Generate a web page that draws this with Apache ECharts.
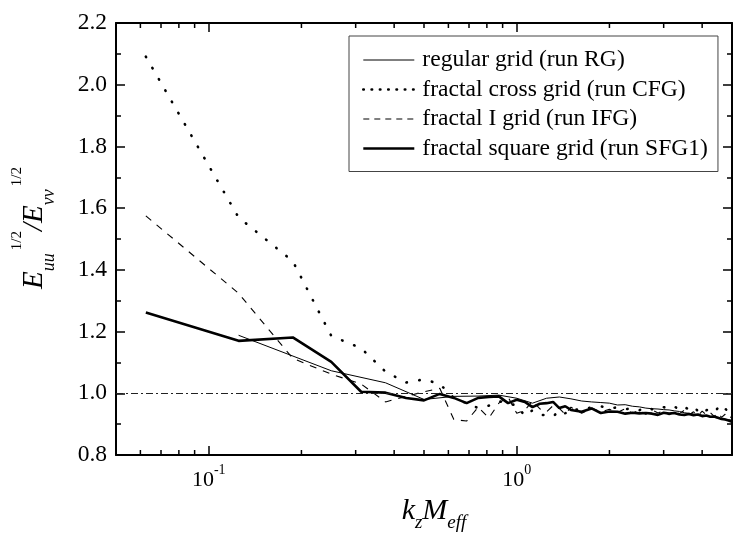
<!DOCTYPE html>
<html><head><meta charset="utf-8">
<script src="https://cdn.jsdelivr.net/npm/echarts@6/dist/echarts.min.js"></script>
<style>html,body{margin:0;padding:0;background:#fff}#c{width:733px;height:537px}</style>
</head><body><div id="c"></div>
<script>
// k_z * M_eff sample positions
const kFine = [0.0625,0.125,0.1875,0.25,0.3125,0.375,0.4375,0.5,0.5625,0.625,0.6875,0.75,0.8125,0.875,0.9375,1.0,
  1.0625,1.125,1.1875,1.25,1.3125,1.375,1.4375,1.5,
  1.625,1.75,1.875,2.0,2.125,2.25,2.375,2.5,2.625,2.75,2.875,3.0,3.125,3.25,3.375,3.5,3.625,3.75,3.875,4.0,
  4.125,4.25,4.375,4.5,4.625,4.75,4.875,5.0];
const kCoarse = [0.125,0.25,0.375,0.5,0.625,0.75,0.875,1.0,1.125,1.25,1.375,1.5,1.625,1.75,1.875,2.0,
  2.125,2.25,2.375,2.5,2.625,2.75,2.875,3.0,3.125,3.25,3.375,3.5,3.625,3.75,3.875,4.0,
  4.125,4.25,4.375,4.5,4.625,4.75,4.875,5.0];

// E_uu^1/2 / E_vv^1/2
const rgValues = [1.188,1.073,1.034,0.980,0.990,0.991,0.994,0.984,0.968,0.984,
  0.988,0.982,0.975,0.972,0.970,0.968,0.962,0.963,0.958,0.956,
  0.952,0.950,0.949,0.947,0.946,0.943,0.941,0.937,0.935,0.933,
  0.931,0.929,0.927,0.924,0.922,0.920,0.918,0.916,0.914,0.913];
const cfgValues = [2.091,1.570,1.428,1.186,1.146,1.070,1.035,1.045,1.030,0.985,0.968,0.952,0.960,0.975,0.965,0.962,
  0.926,0.945,0.930,0.929,0.924,0.945,0.935,0.950,
  0.945,0.955,0.958,0.950,0.955,0.948,0.952,0.945,0.955,0.948,
  0.958,0.955,0.950,0.958,0.945,0.955,0.948,0.958,0.942,0.955,
  0.945,0.950,0.940,0.952,0.938,0.950,0.940,0.950];
const ifgValues = [1.575,1.324,1.113,1.062,1.030,0.972,0.990,1.005,1.016,0.915,0.910,0.955,0.920,0.968,0.988,0.935,
  0.945,0.975,0.950,0.940,0.960,0.951,0.932,0.955,
  0.935,0.952,0.940,0.948,0.938,0.950,0.935,0.945,0.932,0.946,
  0.936,0.944,0.930,0.942,0.934,0.945,0.930,0.940,0.928,0.942,
  0.930,0.938,0.925,0.936,0.922,0.932,0.918,0.925];
const sfg1Values = [1.262,1.170,1.181,1.102,1.005,1.002,0.985,0.977,0.998,0.985,0.968,0.985,0.988,0.990,0.968,0.979,
  0.972,0.955,0.966,0.968,0.972,0.952,0.958,0.946,
  0.940,0.951,0.936,0.941,0.940,0.934,0.937,0.935,0.936,0.934,
  0.930,0.937,0.934,0.936,0.931,0.930,0.933,0.929,0.931,0.926,
  0.928,0.924,0.925,0.921,0.917,0.915,0.912,0.908];

const seriesNames = ['regular grid (run RG)','fractal cross grid (run CFG)','fractal I grid (run IFG)','fractal square grid (run SFG1)'];
const xMin = 0.05, xMax = 5;
const yMin = 0.8, yMax = 2.2, yStep = 0.2;
const xMinorTicks = [0.06,0.07,0.08,0.09,0.2,0.3,0.4,0.5,0.6,0.7,0.8,0.9,2,3,4];
const refLine = 1.0;

const FF = 'Liberation Serif';
const pair = (ks, vs) => ks.map((k, i) => [k, vs[i]]);

const styles = [
  {color: '#000', width: 1, type: 'solid'},
  {color: '#000', width: 2.6, type: [0.5, 12.5], cap: 'round'},
  {color: '#000', width: 1.1, type: [7, 7]},
  {color: '#000', width: 2.6, type: 'solid'}
];
const legendStyles = [
  {color: '#000', width: 1, type: 'solid'},
  {color: '#000', width: 2.6, type: [0.5, 7.8], cap: 'round'},
  {color: '#000', width: 1.1, type: [6, 5]},
  {color: '#000', width: 2.6, type: 'solid'}
];

const axisLineStyle = {show: true, lineStyle: {color: '#000', width: 2}};
const xAxisBase = {
  type: 'log', logBase: 10, min: xMin, max: xMax,
  axisLine: axisLineStyle,
  axisTick: {show: true, inside: true, length: 9, lineStyle: {color: '#000', width: 1.5}},
  splitLine: {show: false},
  minorTick: {show: false}
};
const yAxisBase = {
  type: 'value', min: yMin, max: yMax, interval: yStep,
  axisLine: axisLineStyle,
  axisTick: {show: true, inside: true, length: 9, lineStyle: {color: '#000', width: 1.5}},
  minorTick: {show: true, splitNumber: 2, length: 5, lineStyle: {color: '#000', width: 1.5}},
  splitLine: {show: false}
};

const chart = echarts.init(document.getElementById('c'), null, {renderer: 'canvas'});
chart.setOption({
  animation: false,
  backgroundColor: '#fff',
  grid: {left: 116, top: 23, right: 1, bottom: 82, containLabel: false, outerBoundsMode: 'none'},
  legend: {
    orient: 'vertical', left: 349, top: 36,
    data: seriesNames.map((n, i) => ({name: n, lineStyle: legendStyles[i]})),
    itemWidth: 51, itemHeight: 14, itemGap: 5.5,
    padding: [12, 10, 11, 13],
    borderColor: '#444', borderWidth: 1, borderRadius: 0,
    selectedMode: false,
    itemStyle: {color: 'rgba(0,0,0,0)', borderColor: 'rgba(0,0,0,0)', borderWidth: 0},
    textStyle: {fontFamily: FF, fontSize: 23.6, color: '#000', lineHeight: 22, padding: [0, 0, 0, 3]}
  },
  xAxis: [
    Object.assign({}, xAxisBase, {
      position: 'bottom',
      name: '{k|k}{z|z}{M|M}{e|eff}',
      nameLocation: 'middle', nameGap: 23,
      nameTextStyle: {
        padding: [0, 0, 0, 20],
        rich: {
          k: {fontFamily: FF, fontStyle: 'italic', fontSize: 30, lineHeight: 44, verticalAlign: 'middle', color: '#000'},
          M: {fontFamily: FF, fontStyle: 'italic', fontSize: 30, lineHeight: 44, verticalAlign: 'middle', color: '#000'},
          z: {fontFamily: FF, fontStyle: 'italic', fontSize: 19, lineHeight: 18, verticalAlign: 'bottom', color: '#000'},
          e: {fontFamily: FF, fontStyle: 'italic', fontSize: 19, lineHeight: 18, verticalAlign: 'bottom', color: '#000'}
        }
      },
      axisLabel: {
        show: true, margin: 8, showMinLabel: false, showMaxLabel: false,
        formatter: v => {
          const e = Math.log10(v), r = Math.round(e);
          if (Math.abs(e - r) > 1e-6) return '';
          return '{b|10}{s|' + r + '}';
        },
        rich: {
          b: {fontFamily: FF, fontSize: 22, lineHeight: 28, verticalAlign: 'bottom', color: '#000'},
          s: {fontFamily: FF, fontSize: 14, lineHeight: 14, verticalAlign: 'top', color: '#000'}
        }
      }
    }),
    Object.assign({}, xAxisBase, {position: 'top', axisLabel: {show: false}})
  ],
  yAxis: [
    Object.assign({}, yAxisBase, {
      position: 'left',
      name: '{E|E}{s|uu}{p|1/2}{E|/E}{s|vv}{p|1/2}',
      nameLocation: 'middle', nameRotate: 90, nameGap: 58,
      nameTextStyle: {
        padding: [0, 0, 0, 22],
        rich: {
          E: {fontFamily: FF, fontStyle: 'italic', fontSize: 29, lineHeight: 48, verticalAlign: 'middle', color: '#000'},
          s: {fontFamily: FF, fontStyle: 'italic', fontSize: 18, lineHeight: 18, verticalAlign: 'bottom', color: '#000'},
          p: {fontFamily: FF, fontSize: 15, lineHeight: 16, verticalAlign: 'top', padding: [0, 0, 0, 3], color: '#000'}
        }
      },
      axisLabel: {show: true, margin: 9, fontFamily: FF, fontSize: 23.5, color: '#000', formatter: v => v.toFixed(1)}
    }),
    Object.assign({}, yAxisBase, {position: 'right', axisLabel: {show: false}})
  ],
  series: [
    {
      name: seriesNames[0], type: 'line', showSymbol: false, symbol: 'none',
      data: pair(kCoarse, rgValues),
      lineStyle: styles[0],
      itemStyle: {color: '#000'},
      markLine: {
        silent: true, symbol: ['none', 'none'], label: {show: false},
        lineStyle: {type: [7, 3, 2, 3], width: 1.2, color: '#222'},
        data: [{yAxis: refLine}]
      }
    },
    {
      name: seriesNames[1], type: 'line', showSymbol: false, symbol: 'none',
      data: pair(kFine, cfgValues),
      lineStyle: styles[1],
      itemStyle: {color: '#000'}
    },
    {
      name: seriesNames[2], type: 'line', showSymbol: false, symbol: 'none',
      data: pair(kFine, ifgValues),
      lineStyle: styles[2],
      itemStyle: {color: '#000'}
    },
    {
      name: seriesNames[3], type: 'line', showSymbol: false, symbol: 'none',
      data: pair(kFine, sfg1Values),
      lineStyle: styles[3],
      itemStyle: {color: '#000'}
    },
    {
      name: 'minorTicks', type: 'custom', silent: true, clip: false,
      data: xMinorTicks.map(v => [v, yMin]),
      encode: {x: 0, y: 1},
      renderItem: (params, api) => {
        const v = api.value(0);
        const b = api.coord([v, yMin]);
        const t = api.coord([v, yMax]);
        return {type: 'group', children: [
          {type: 'line', shape: {x1: b[0], y1: b[1], x2: b[0], y2: b[1] - 5}, style: {stroke: '#000', lineWidth: 1.5}},
          {type: 'line', shape: {x1: t[0], y1: t[1], x2: t[0], y2: t[1] + 5}, style: {stroke: '#000', lineWidth: 1.5}}
        ]};
      }
    }
  ]
});
</script></body></html>
